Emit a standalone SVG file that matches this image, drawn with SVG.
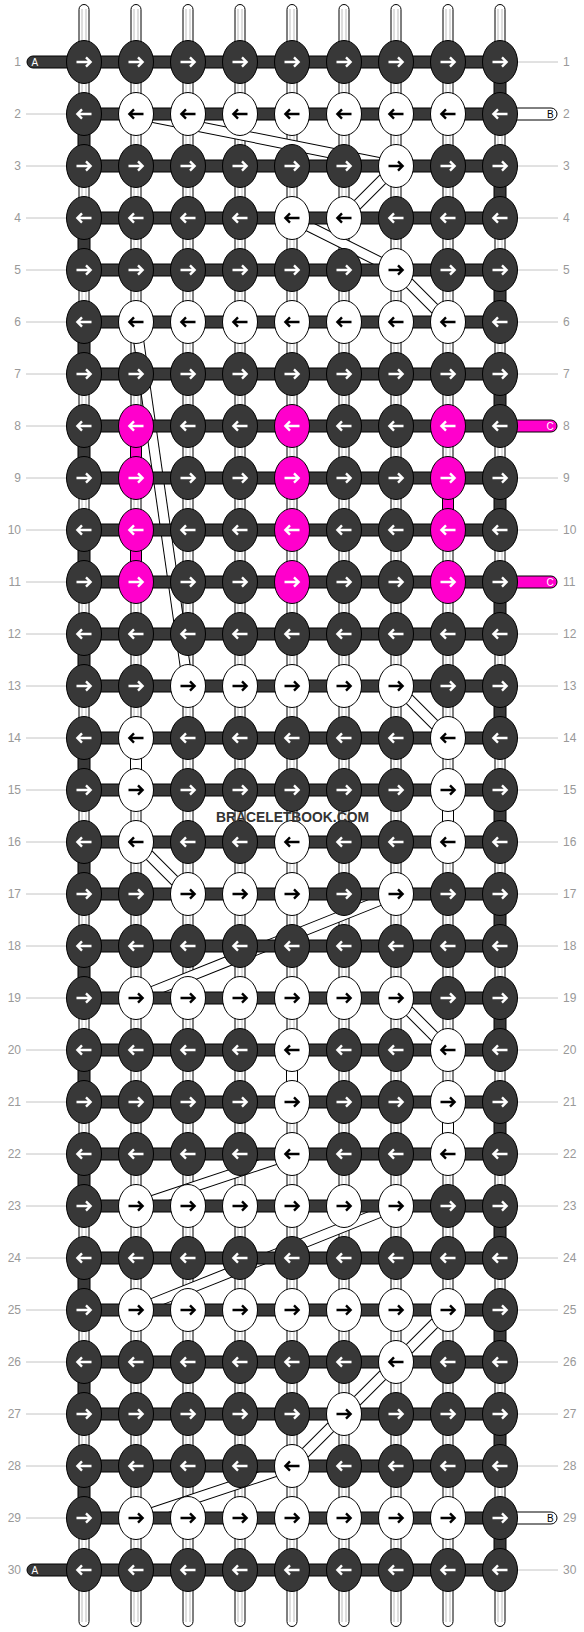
<svg xmlns="http://www.w3.org/2000/svg" xmlns:xlink="http://www.w3.org/1999/xlink" width="584" height="1632" viewBox="0 0 584 1632">
<style>
.d{fill:#383838;color:#fff}
.w{fill:#fff;color:#000}
.p{fill:#ff00cc;color:#fff}
.gl{stroke:#c4c4c4;stroke-width:1}
.lb{font-family:"Liberation Sans",Arial,sans-serif;font-size:12px;fill:#999}
.le{text-anchor:end}
.bar{fill:#383838;stroke:#000;stroke-width:1}
.pk{fill:#ff00cc;stroke:#000;stroke-width:1}
.wt{fill:#fff;stroke:#000;stroke-width:1}
.tl{stroke:#bdbdbd;stroke-width:1}
.tag{font-family:"Liberation Sans",Arial,sans-serif;font-size:10px}
</style>
<defs>
<ellipse id="E" rx="17.5" ry="21.5" stroke="#000" stroke-width="1"/>
<path id="R" d="M-7.5,0H6.5M2,-4.6L6.6,0L2,4.6" fill="none" stroke="currentColor" stroke-width="2.4"/>
<path id="L" d="M7.5,0H-6.5M-2,-4.6L-6.6,0L-2,4.6" fill="none" stroke="currentColor" stroke-width="2.4"/>
<g id="ribs" fill="none">
<line x1="136" y1="114" x2="396" y2="166"/>
<line x1="396" y1="166" x2="344" y2="218"/>
<line x1="292" y1="218" x2="396" y2="270"/>
<line x1="396" y1="270" x2="448" y2="322"/>
<line x1="136" y1="322" x2="188" y2="686"/>
<line x1="396" y1="686" x2="448" y2="738"/>
<line x1="136" y1="842" x2="188" y2="894"/>
<line x1="396" y1="894" x2="136" y2="998"/>
<line x1="396" y1="998" x2="448" y2="1050"/>
<line x1="292" y1="1154" x2="136" y2="1206"/>
<line x1="396" y1="1206" x2="136" y2="1310"/>
<line x1="448" y1="1310" x2="396" y2="1362"/>
<line x1="396" y1="1362" x2="344" y2="1414"/>
<line x1="344" y1="1414" x2="292" y2="1466"/>
<line x1="292" y1="1466" x2="136" y2="1518"/>
</g>
</defs>
<rect width="584" height="1632" fill="#fff"/>
<g id="guides" class="gl">
<path d="M26,114H66M26,166H66M26,218H66M26,270H66M26,322H66M26,374H66M26,426H66M26,478H66M26,530H66M26,582H66M26,634H66M26,686H66M26,738H66M26,790H66M26,842H66M26,894H66M26,946H66M26,998H66M26,1050H66M26,1102H66M26,1154H66M26,1206H66M26,1258H66M26,1310H66M26,1362H66M26,1414H66M26,1466H66M26,1518H66"/>
<path d="M518,62H558M518,166H558M518,218H558M518,270H558M518,322H558M518,374H558M518,478H558M518,530H558M518,634H558M518,686H558M518,738H558M518,790H558M518,842H558M518,894H558M518,946H558M518,998H558M518,1050H558M518,1102H558M518,1154H558M518,1206H558M518,1258H558M518,1310H558M518,1362H558M518,1414H558M518,1466H558M518,1570H558"/>
</g>
<g id="warps">
<g class="wt"><rect x="79" y="4.5" width="10" height="1622" rx="5"/><rect x="131" y="4.5" width="10" height="1622" rx="5"/><rect x="183" y="4.5" width="10" height="1622" rx="5"/><rect x="235" y="4.5" width="10" height="1622" rx="5"/><rect x="287" y="4.5" width="10" height="1622" rx="5"/><rect x="339" y="4.5" width="10" height="1622" rx="5"/><rect x="391" y="4.5" width="10" height="1622" rx="5"/><rect x="443" y="4.5" width="10" height="1622" rx="5"/><rect x="495" y="4.5" width="10" height="1622" rx="5"/></g>
<path class="tl" d="M82,9V1622M86,9V1622M134,9V1622M138,9V1622M186,9V1622M190,9V1622M238,9V1622M242,9V1622M290,9V1622M294,9V1622M342,9V1622M346,9V1622M394,9V1622M398,9V1622M446,9V1622M450,9V1622M498,9V1622M502,9V1622"/>
</g>
<g id="connectors">
<use href="#ribs" stroke="#000" stroke-width="11"/>
<use href="#ribs" stroke="#fff" stroke-width="9"/>
<path class="bar" d="M78,114h12v52h-12zM78,218h12v52h-12zM78,322h12v52h-12zM78,426h12v52h-12zM78,530h12v52h-12zM78,634h12v52h-12zM78,738h12v52h-12zM78,842h12v52h-12zM78,946h12v52h-12zM78,1050h12v52h-12zM78,1154h12v52h-12zM78,1258h12v52h-12zM78,1362h12v52h-12zM78,1466h12v52h-12zM494,62h12v52h-12zM494,166h12v52h-12zM494,270h12v52h-12zM494,374h12v52h-12zM494,478h12v52h-12zM494,582h12v52h-12zM494,686h12v52h-12zM494,790h12v52h-12zM494,894h12v52h-12zM494,998h12v52h-12zM494,1102h12v52h-12zM494,1206h12v52h-12zM494,1310h12v52h-12zM494,1414h12v52h-12zM494,1518h12v52h-12z"/>
<path class="pk" d="M130.5,426h11v52h-11zM130.5,530h11v52h-11zM442.5,478h11v52h-11z"/>
<path class="wt" d="M130.5,738h11v52h-11zM442.5,790h11v52h-11zM286.5,1050h11v52h-11zM442.5,1102h11v52h-11z"/>
<rect class="bar" x="27" y="56" width="473" height="12" rx="6"/>
<rect class="bar" x="27" y="1564" width="473" height="12" rx="6"/>
<path class="bar" d="M84,108h416v12h-416zM84,160h416v12h-416zM84,212h416v12h-416zM84,264h416v12h-416zM84,316h416v12h-416zM84,368h416v12h-416zM84,420h416v12h-416zM84,472h416v12h-416zM84,524h416v12h-416zM84,576h416v12h-416zM84,628h416v12h-416zM84,680h416v12h-416zM84,732h416v12h-416zM84,784h416v12h-416zM84,836h416v12h-416zM84,888h416v12h-416zM84,940h416v12h-416zM84,992h416v12h-416zM84,1044h416v12h-416zM84,1096h416v12h-416zM84,1148h416v12h-416zM84,1200h416v12h-416zM84,1252h416v12h-416zM84,1304h416v12h-416zM84,1356h416v12h-416zM84,1408h416v12h-416zM84,1460h416v12h-416zM84,1512h416v12h-416z"/>
<rect class="wt" x="490" y="108" width="67" height="12" rx="6"/>
<rect class="wt" x="490" y="1512" width="67" height="12" rx="6"/>
<rect class="pk" x="490" y="420" width="67" height="12" rx="6"/>
<rect class="pk" x="490" y="576" width="67" height="12" rx="6"/>
</g>
<g id="nodes">
<g id="r1"><g id="n1-1" class="d" transform="translate(84 62)"><use href="#E"/><use href="#R"/></g><g id="n1-2" class="d" transform="translate(136 62)"><use href="#E"/><use href="#R"/></g><g id="n1-3" class="d" transform="translate(188 62)"><use href="#E"/><use href="#R"/></g><g id="n1-4" class="d" transform="translate(240 62)"><use href="#E"/><use href="#R"/></g><g id="n1-5" class="d" transform="translate(292 62)"><use href="#E"/><use href="#R"/></g><g id="n1-6" class="d" transform="translate(344 62)"><use href="#E"/><use href="#R"/></g><g id="n1-7" class="d" transform="translate(396 62)"><use href="#E"/><use href="#R"/></g><g id="n1-8" class="d" transform="translate(448 62)"><use href="#E"/><use href="#R"/></g><g id="n1-9" class="d" transform="translate(500 62)"><use href="#E"/><use href="#R"/></g></g>
<g id="r2"><g id="n2-1" class="d" transform="translate(84 114)"><use href="#E"/><use href="#L"/></g><g id="n2-2" class="w" transform="translate(136 114)"><use href="#E"/><use href="#L"/></g><g id="n2-3" class="w" transform="translate(188 114)"><use href="#E"/><use href="#L"/></g><g id="n2-4" class="w" transform="translate(240 114)"><use href="#E"/><use href="#L"/></g><g id="n2-5" class="w" transform="translate(292 114)"><use href="#E"/><use href="#L"/></g><g id="n2-6" class="w" transform="translate(344 114)"><use href="#E"/><use href="#L"/></g><g id="n2-7" class="w" transform="translate(396 114)"><use href="#E"/><use href="#L"/></g><g id="n2-8" class="w" transform="translate(448 114)"><use href="#E"/><use href="#L"/></g><g id="n2-9" class="d" transform="translate(500 114)"><use href="#E"/><use href="#L"/></g></g>
<g id="r3"><g id="n3-1" class="d" transform="translate(84 166)"><use href="#E"/><use href="#R"/></g><g id="n3-2" class="d" transform="translate(136 166)"><use href="#E"/><use href="#R"/></g><g id="n3-3" class="d" transform="translate(188 166)"><use href="#E"/><use href="#R"/></g><g id="n3-4" class="d" transform="translate(240 166)"><use href="#E"/><use href="#R"/></g><g id="n3-5" class="d" transform="translate(292 166)"><use href="#E"/><use href="#R"/></g><g id="n3-6" class="d" transform="translate(344 166)"><use href="#E"/><use href="#R"/></g><g id="n3-7" class="w" transform="translate(396 166)"><use href="#E"/><use href="#R"/></g><g id="n3-8" class="d" transform="translate(448 166)"><use href="#E"/><use href="#R"/></g><g id="n3-9" class="d" transform="translate(500 166)"><use href="#E"/><use href="#R"/></g></g>
<g id="r4"><g id="n4-1" class="d" transform="translate(84 218)"><use href="#E"/><use href="#L"/></g><g id="n4-2" class="d" transform="translate(136 218)"><use href="#E"/><use href="#L"/></g><g id="n4-3" class="d" transform="translate(188 218)"><use href="#E"/><use href="#L"/></g><g id="n4-4" class="d" transform="translate(240 218)"><use href="#E"/><use href="#L"/></g><g id="n4-5" class="w" transform="translate(292 218)"><use href="#E"/><use href="#L"/></g><g id="n4-6" class="w" transform="translate(344 218)"><use href="#E"/><use href="#L"/></g><g id="n4-7" class="d" transform="translate(396 218)"><use href="#E"/><use href="#L"/></g><g id="n4-8" class="d" transform="translate(448 218)"><use href="#E"/><use href="#L"/></g><g id="n4-9" class="d" transform="translate(500 218)"><use href="#E"/><use href="#L"/></g></g>
<g id="r5"><g id="n5-1" class="d" transform="translate(84 270)"><use href="#E"/><use href="#R"/></g><g id="n5-2" class="d" transform="translate(136 270)"><use href="#E"/><use href="#R"/></g><g id="n5-3" class="d" transform="translate(188 270)"><use href="#E"/><use href="#R"/></g><g id="n5-4" class="d" transform="translate(240 270)"><use href="#E"/><use href="#R"/></g><g id="n5-5" class="d" transform="translate(292 270)"><use href="#E"/><use href="#R"/></g><g id="n5-6" class="d" transform="translate(344 270)"><use href="#E"/><use href="#R"/></g><g id="n5-7" class="w" transform="translate(396 270)"><use href="#E"/><use href="#R"/></g><g id="n5-8" class="d" transform="translate(448 270)"><use href="#E"/><use href="#R"/></g><g id="n5-9" class="d" transform="translate(500 270)"><use href="#E"/><use href="#R"/></g></g>
<g id="r6"><g id="n6-1" class="d" transform="translate(84 322)"><use href="#E"/><use href="#L"/></g><g id="n6-2" class="w" transform="translate(136 322)"><use href="#E"/><use href="#L"/></g><g id="n6-3" class="w" transform="translate(188 322)"><use href="#E"/><use href="#L"/></g><g id="n6-4" class="w" transform="translate(240 322)"><use href="#E"/><use href="#L"/></g><g id="n6-5" class="w" transform="translate(292 322)"><use href="#E"/><use href="#L"/></g><g id="n6-6" class="w" transform="translate(344 322)"><use href="#E"/><use href="#L"/></g><g id="n6-7" class="w" transform="translate(396 322)"><use href="#E"/><use href="#L"/></g><g id="n6-8" class="w" transform="translate(448 322)"><use href="#E"/><use href="#L"/></g><g id="n6-9" class="d" transform="translate(500 322)"><use href="#E"/><use href="#L"/></g></g>
<g id="r7"><g id="n7-1" class="d" transform="translate(84 374)"><use href="#E"/><use href="#R"/></g><g id="n7-2" class="d" transform="translate(136 374)"><use href="#E"/><use href="#R"/></g><g id="n7-3" class="d" transform="translate(188 374)"><use href="#E"/><use href="#R"/></g><g id="n7-4" class="d" transform="translate(240 374)"><use href="#E"/><use href="#R"/></g><g id="n7-5" class="d" transform="translate(292 374)"><use href="#E"/><use href="#R"/></g><g id="n7-6" class="d" transform="translate(344 374)"><use href="#E"/><use href="#R"/></g><g id="n7-7" class="d" transform="translate(396 374)"><use href="#E"/><use href="#R"/></g><g id="n7-8" class="d" transform="translate(448 374)"><use href="#E"/><use href="#R"/></g><g id="n7-9" class="d" transform="translate(500 374)"><use href="#E"/><use href="#R"/></g></g>
<g id="r8"><g id="n8-1" class="d" transform="translate(84 426)"><use href="#E"/><use href="#L"/></g><g id="n8-2" class="p" transform="translate(136 426)"><use href="#E"/><use href="#L"/></g><g id="n8-3" class="d" transform="translate(188 426)"><use href="#E"/><use href="#L"/></g><g id="n8-4" class="d" transform="translate(240 426)"><use href="#E"/><use href="#L"/></g><g id="n8-5" class="p" transform="translate(292 426)"><use href="#E"/><use href="#L"/></g><g id="n8-6" class="d" transform="translate(344 426)"><use href="#E"/><use href="#L"/></g><g id="n8-7" class="d" transform="translate(396 426)"><use href="#E"/><use href="#L"/></g><g id="n8-8" class="p" transform="translate(448 426)"><use href="#E"/><use href="#L"/></g><g id="n8-9" class="d" transform="translate(500 426)"><use href="#E"/><use href="#L"/></g></g>
<g id="r9"><g id="n9-1" class="d" transform="translate(84 478)"><use href="#E"/><use href="#R"/></g><g id="n9-2" class="p" transform="translate(136 478)"><use href="#E"/><use href="#R"/></g><g id="n9-3" class="d" transform="translate(188 478)"><use href="#E"/><use href="#R"/></g><g id="n9-4" class="d" transform="translate(240 478)"><use href="#E"/><use href="#R"/></g><g id="n9-5" class="p" transform="translate(292 478)"><use href="#E"/><use href="#R"/></g><g id="n9-6" class="d" transform="translate(344 478)"><use href="#E"/><use href="#R"/></g><g id="n9-7" class="d" transform="translate(396 478)"><use href="#E"/><use href="#R"/></g><g id="n9-8" class="p" transform="translate(448 478)"><use href="#E"/><use href="#R"/></g><g id="n9-9" class="d" transform="translate(500 478)"><use href="#E"/><use href="#R"/></g></g>
<g id="r10"><g id="n10-1" class="d" transform="translate(84 530)"><use href="#E"/><use href="#L"/></g><g id="n10-2" class="p" transform="translate(136 530)"><use href="#E"/><use href="#L"/></g><g id="n10-3" class="d" transform="translate(188 530)"><use href="#E"/><use href="#L"/></g><g id="n10-4" class="d" transform="translate(240 530)"><use href="#E"/><use href="#L"/></g><g id="n10-5" class="p" transform="translate(292 530)"><use href="#E"/><use href="#L"/></g><g id="n10-6" class="d" transform="translate(344 530)"><use href="#E"/><use href="#L"/></g><g id="n10-7" class="d" transform="translate(396 530)"><use href="#E"/><use href="#L"/></g><g id="n10-8" class="p" transform="translate(448 530)"><use href="#E"/><use href="#L"/></g><g id="n10-9" class="d" transform="translate(500 530)"><use href="#E"/><use href="#L"/></g></g>
<g id="r11"><g id="n11-1" class="d" transform="translate(84 582)"><use href="#E"/><use href="#R"/></g><g id="n11-2" class="p" transform="translate(136 582)"><use href="#E"/><use href="#R"/></g><g id="n11-3" class="d" transform="translate(188 582)"><use href="#E"/><use href="#R"/></g><g id="n11-4" class="d" transform="translate(240 582)"><use href="#E"/><use href="#R"/></g><g id="n11-5" class="p" transform="translate(292 582)"><use href="#E"/><use href="#R"/></g><g id="n11-6" class="d" transform="translate(344 582)"><use href="#E"/><use href="#R"/></g><g id="n11-7" class="d" transform="translate(396 582)"><use href="#E"/><use href="#R"/></g><g id="n11-8" class="p" transform="translate(448 582)"><use href="#E"/><use href="#R"/></g><g id="n11-9" class="d" transform="translate(500 582)"><use href="#E"/><use href="#R"/></g></g>
<g id="r12"><g id="n12-1" class="d" transform="translate(84 634)"><use href="#E"/><use href="#L"/></g><g id="n12-2" class="d" transform="translate(136 634)"><use href="#E"/><use href="#L"/></g><g id="n12-3" class="d" transform="translate(188 634)"><use href="#E"/><use href="#L"/></g><g id="n12-4" class="d" transform="translate(240 634)"><use href="#E"/><use href="#L"/></g><g id="n12-5" class="d" transform="translate(292 634)"><use href="#E"/><use href="#L"/></g><g id="n12-6" class="d" transform="translate(344 634)"><use href="#E"/><use href="#L"/></g><g id="n12-7" class="d" transform="translate(396 634)"><use href="#E"/><use href="#L"/></g><g id="n12-8" class="d" transform="translate(448 634)"><use href="#E"/><use href="#L"/></g><g id="n12-9" class="d" transform="translate(500 634)"><use href="#E"/><use href="#L"/></g></g>
<g id="r13"><g id="n13-1" class="d" transform="translate(84 686)"><use href="#E"/><use href="#R"/></g><g id="n13-2" class="d" transform="translate(136 686)"><use href="#E"/><use href="#R"/></g><g id="n13-3" class="w" transform="translate(188 686)"><use href="#E"/><use href="#R"/></g><g id="n13-4" class="w" transform="translate(240 686)"><use href="#E"/><use href="#R"/></g><g id="n13-5" class="w" transform="translate(292 686)"><use href="#E"/><use href="#R"/></g><g id="n13-6" class="w" transform="translate(344 686)"><use href="#E"/><use href="#R"/></g><g id="n13-7" class="w" transform="translate(396 686)"><use href="#E"/><use href="#R"/></g><g id="n13-8" class="d" transform="translate(448 686)"><use href="#E"/><use href="#R"/></g><g id="n13-9" class="d" transform="translate(500 686)"><use href="#E"/><use href="#R"/></g></g>
<g id="r14"><g id="n14-1" class="d" transform="translate(84 738)"><use href="#E"/><use href="#L"/></g><g id="n14-2" class="w" transform="translate(136 738)"><use href="#E"/><use href="#L"/></g><g id="n14-3" class="d" transform="translate(188 738)"><use href="#E"/><use href="#L"/></g><g id="n14-4" class="d" transform="translate(240 738)"><use href="#E"/><use href="#L"/></g><g id="n14-5" class="d" transform="translate(292 738)"><use href="#E"/><use href="#L"/></g><g id="n14-6" class="d" transform="translate(344 738)"><use href="#E"/><use href="#L"/></g><g id="n14-7" class="d" transform="translate(396 738)"><use href="#E"/><use href="#L"/></g><g id="n14-8" class="w" transform="translate(448 738)"><use href="#E"/><use href="#L"/></g><g id="n14-9" class="d" transform="translate(500 738)"><use href="#E"/><use href="#L"/></g></g>
<g id="r15"><g id="n15-1" class="d" transform="translate(84 790)"><use href="#E"/><use href="#R"/></g><g id="n15-2" class="w" transform="translate(136 790)"><use href="#E"/><use href="#R"/></g><g id="n15-3" class="d" transform="translate(188 790)"><use href="#E"/><use href="#R"/></g><g id="n15-4" class="d" transform="translate(240 790)"><use href="#E"/><use href="#R"/></g><g id="n15-5" class="d" transform="translate(292 790)"><use href="#E"/><use href="#R"/></g><g id="n15-6" class="d" transform="translate(344 790)"><use href="#E"/><use href="#R"/></g><g id="n15-7" class="d" transform="translate(396 790)"><use href="#E"/><use href="#R"/></g><g id="n15-8" class="w" transform="translate(448 790)"><use href="#E"/><use href="#R"/></g><g id="n15-9" class="d" transform="translate(500 790)"><use href="#E"/><use href="#R"/></g></g>
<g id="r16"><g id="n16-1" class="d" transform="translate(84 842)"><use href="#E"/><use href="#L"/></g><g id="n16-2" class="w" transform="translate(136 842)"><use href="#E"/><use href="#L"/></g><g id="n16-3" class="d" transform="translate(188 842)"><use href="#E"/><use href="#L"/></g><g id="n16-4" class="d" transform="translate(240 842)"><use href="#E"/><use href="#L"/></g><g id="n16-5" class="w" transform="translate(292 842)"><use href="#E"/><use href="#L"/></g><g id="n16-6" class="d" transform="translate(344 842)"><use href="#E"/><use href="#L"/></g><g id="n16-7" class="d" transform="translate(396 842)"><use href="#E"/><use href="#L"/></g><g id="n16-8" class="w" transform="translate(448 842)"><use href="#E"/><use href="#L"/></g><g id="n16-9" class="d" transform="translate(500 842)"><use href="#E"/><use href="#L"/></g></g>
<g id="r17"><g id="n17-1" class="d" transform="translate(84 894)"><use href="#E"/><use href="#R"/></g><g id="n17-2" class="d" transform="translate(136 894)"><use href="#E"/><use href="#R"/></g><g id="n17-3" class="w" transform="translate(188 894)"><use href="#E"/><use href="#R"/></g><g id="n17-4" class="w" transform="translate(240 894)"><use href="#E"/><use href="#R"/></g><g id="n17-5" class="w" transform="translate(292 894)"><use href="#E"/><use href="#R"/></g><g id="n17-6" class="d" transform="translate(344 894)"><use href="#E"/><use href="#R"/></g><g id="n17-7" class="w" transform="translate(396 894)"><use href="#E"/><use href="#R"/></g><g id="n17-8" class="d" transform="translate(448 894)"><use href="#E"/><use href="#R"/></g><g id="n17-9" class="d" transform="translate(500 894)"><use href="#E"/><use href="#R"/></g></g>
<g id="r18"><g id="n18-1" class="d" transform="translate(84 946)"><use href="#E"/><use href="#L"/></g><g id="n18-2" class="d" transform="translate(136 946)"><use href="#E"/><use href="#L"/></g><g id="n18-3" class="d" transform="translate(188 946)"><use href="#E"/><use href="#L"/></g><g id="n18-4" class="d" transform="translate(240 946)"><use href="#E"/><use href="#L"/></g><g id="n18-5" class="d" transform="translate(292 946)"><use href="#E"/><use href="#L"/></g><g id="n18-6" class="d" transform="translate(344 946)"><use href="#E"/><use href="#L"/></g><g id="n18-7" class="d" transform="translate(396 946)"><use href="#E"/><use href="#L"/></g><g id="n18-8" class="d" transform="translate(448 946)"><use href="#E"/><use href="#L"/></g><g id="n18-9" class="d" transform="translate(500 946)"><use href="#E"/><use href="#L"/></g></g>
<g id="r19"><g id="n19-1" class="d" transform="translate(84 998)"><use href="#E"/><use href="#R"/></g><g id="n19-2" class="w" transform="translate(136 998)"><use href="#E"/><use href="#R"/></g><g id="n19-3" class="w" transform="translate(188 998)"><use href="#E"/><use href="#R"/></g><g id="n19-4" class="w" transform="translate(240 998)"><use href="#E"/><use href="#R"/></g><g id="n19-5" class="w" transform="translate(292 998)"><use href="#E"/><use href="#R"/></g><g id="n19-6" class="w" transform="translate(344 998)"><use href="#E"/><use href="#R"/></g><g id="n19-7" class="w" transform="translate(396 998)"><use href="#E"/><use href="#R"/></g><g id="n19-8" class="d" transform="translate(448 998)"><use href="#E"/><use href="#R"/></g><g id="n19-9" class="d" transform="translate(500 998)"><use href="#E"/><use href="#R"/></g></g>
<g id="r20"><g id="n20-1" class="d" transform="translate(84 1050)"><use href="#E"/><use href="#L"/></g><g id="n20-2" class="d" transform="translate(136 1050)"><use href="#E"/><use href="#L"/></g><g id="n20-3" class="d" transform="translate(188 1050)"><use href="#E"/><use href="#L"/></g><g id="n20-4" class="d" transform="translate(240 1050)"><use href="#E"/><use href="#L"/></g><g id="n20-5" class="w" transform="translate(292 1050)"><use href="#E"/><use href="#L"/></g><g id="n20-6" class="d" transform="translate(344 1050)"><use href="#E"/><use href="#L"/></g><g id="n20-7" class="d" transform="translate(396 1050)"><use href="#E"/><use href="#L"/></g><g id="n20-8" class="w" transform="translate(448 1050)"><use href="#E"/><use href="#L"/></g><g id="n20-9" class="d" transform="translate(500 1050)"><use href="#E"/><use href="#L"/></g></g>
<g id="r21"><g id="n21-1" class="d" transform="translate(84 1102)"><use href="#E"/><use href="#R"/></g><g id="n21-2" class="d" transform="translate(136 1102)"><use href="#E"/><use href="#R"/></g><g id="n21-3" class="d" transform="translate(188 1102)"><use href="#E"/><use href="#R"/></g><g id="n21-4" class="d" transform="translate(240 1102)"><use href="#E"/><use href="#R"/></g><g id="n21-5" class="w" transform="translate(292 1102)"><use href="#E"/><use href="#R"/></g><g id="n21-6" class="d" transform="translate(344 1102)"><use href="#E"/><use href="#R"/></g><g id="n21-7" class="d" transform="translate(396 1102)"><use href="#E"/><use href="#R"/></g><g id="n21-8" class="w" transform="translate(448 1102)"><use href="#E"/><use href="#R"/></g><g id="n21-9" class="d" transform="translate(500 1102)"><use href="#E"/><use href="#R"/></g></g>
<g id="r22"><g id="n22-1" class="d" transform="translate(84 1154)"><use href="#E"/><use href="#L"/></g><g id="n22-2" class="d" transform="translate(136 1154)"><use href="#E"/><use href="#L"/></g><g id="n22-3" class="d" transform="translate(188 1154)"><use href="#E"/><use href="#L"/></g><g id="n22-4" class="d" transform="translate(240 1154)"><use href="#E"/><use href="#L"/></g><g id="n22-5" class="w" transform="translate(292 1154)"><use href="#E"/><use href="#L"/></g><g id="n22-6" class="d" transform="translate(344 1154)"><use href="#E"/><use href="#L"/></g><g id="n22-7" class="d" transform="translate(396 1154)"><use href="#E"/><use href="#L"/></g><g id="n22-8" class="w" transform="translate(448 1154)"><use href="#E"/><use href="#L"/></g><g id="n22-9" class="d" transform="translate(500 1154)"><use href="#E"/><use href="#L"/></g></g>
<g id="r23"><g id="n23-1" class="d" transform="translate(84 1206)"><use href="#E"/><use href="#R"/></g><g id="n23-2" class="w" transform="translate(136 1206)"><use href="#E"/><use href="#R"/></g><g id="n23-3" class="w" transform="translate(188 1206)"><use href="#E"/><use href="#R"/></g><g id="n23-4" class="w" transform="translate(240 1206)"><use href="#E"/><use href="#R"/></g><g id="n23-5" class="w" transform="translate(292 1206)"><use href="#E"/><use href="#R"/></g><g id="n23-6" class="w" transform="translate(344 1206)"><use href="#E"/><use href="#R"/></g><g id="n23-7" class="w" transform="translate(396 1206)"><use href="#E"/><use href="#R"/></g><g id="n23-8" class="d" transform="translate(448 1206)"><use href="#E"/><use href="#R"/></g><g id="n23-9" class="d" transform="translate(500 1206)"><use href="#E"/><use href="#R"/></g></g>
<g id="r24"><g id="n24-1" class="d" transform="translate(84 1258)"><use href="#E"/><use href="#L"/></g><g id="n24-2" class="d" transform="translate(136 1258)"><use href="#E"/><use href="#L"/></g><g id="n24-3" class="d" transform="translate(188 1258)"><use href="#E"/><use href="#L"/></g><g id="n24-4" class="d" transform="translate(240 1258)"><use href="#E"/><use href="#L"/></g><g id="n24-5" class="d" transform="translate(292 1258)"><use href="#E"/><use href="#L"/></g><g id="n24-6" class="d" transform="translate(344 1258)"><use href="#E"/><use href="#L"/></g><g id="n24-7" class="d" transform="translate(396 1258)"><use href="#E"/><use href="#L"/></g><g id="n24-8" class="d" transform="translate(448 1258)"><use href="#E"/><use href="#L"/></g><g id="n24-9" class="d" transform="translate(500 1258)"><use href="#E"/><use href="#L"/></g></g>
<g id="r25"><g id="n25-1" class="d" transform="translate(84 1310)"><use href="#E"/><use href="#R"/></g><g id="n25-2" class="w" transform="translate(136 1310)"><use href="#E"/><use href="#R"/></g><g id="n25-3" class="w" transform="translate(188 1310)"><use href="#E"/><use href="#R"/></g><g id="n25-4" class="w" transform="translate(240 1310)"><use href="#E"/><use href="#R"/></g><g id="n25-5" class="w" transform="translate(292 1310)"><use href="#E"/><use href="#R"/></g><g id="n25-6" class="w" transform="translate(344 1310)"><use href="#E"/><use href="#R"/></g><g id="n25-7" class="w" transform="translate(396 1310)"><use href="#E"/><use href="#R"/></g><g id="n25-8" class="w" transform="translate(448 1310)"><use href="#E"/><use href="#R"/></g><g id="n25-9" class="d" transform="translate(500 1310)"><use href="#E"/><use href="#R"/></g></g>
<g id="r26"><g id="n26-1" class="d" transform="translate(84 1362)"><use href="#E"/><use href="#L"/></g><g id="n26-2" class="d" transform="translate(136 1362)"><use href="#E"/><use href="#L"/></g><g id="n26-3" class="d" transform="translate(188 1362)"><use href="#E"/><use href="#L"/></g><g id="n26-4" class="d" transform="translate(240 1362)"><use href="#E"/><use href="#L"/></g><g id="n26-5" class="d" transform="translate(292 1362)"><use href="#E"/><use href="#L"/></g><g id="n26-6" class="d" transform="translate(344 1362)"><use href="#E"/><use href="#L"/></g><g id="n26-7" class="w" transform="translate(396 1362)"><use href="#E"/><use href="#L"/></g><g id="n26-8" class="d" transform="translate(448 1362)"><use href="#E"/><use href="#L"/></g><g id="n26-9" class="d" transform="translate(500 1362)"><use href="#E"/><use href="#L"/></g></g>
<g id="r27"><g id="n27-1" class="d" transform="translate(84 1414)"><use href="#E"/><use href="#R"/></g><g id="n27-2" class="d" transform="translate(136 1414)"><use href="#E"/><use href="#R"/></g><g id="n27-3" class="d" transform="translate(188 1414)"><use href="#E"/><use href="#R"/></g><g id="n27-4" class="d" transform="translate(240 1414)"><use href="#E"/><use href="#R"/></g><g id="n27-5" class="d" transform="translate(292 1414)"><use href="#E"/><use href="#R"/></g><g id="n27-6" class="w" transform="translate(344 1414)"><use href="#E"/><use href="#R"/></g><g id="n27-7" class="d" transform="translate(396 1414)"><use href="#E"/><use href="#R"/></g><g id="n27-8" class="d" transform="translate(448 1414)"><use href="#E"/><use href="#R"/></g><g id="n27-9" class="d" transform="translate(500 1414)"><use href="#E"/><use href="#R"/></g></g>
<g id="r28"><g id="n28-1" class="d" transform="translate(84 1466)"><use href="#E"/><use href="#L"/></g><g id="n28-2" class="d" transform="translate(136 1466)"><use href="#E"/><use href="#L"/></g><g id="n28-3" class="d" transform="translate(188 1466)"><use href="#E"/><use href="#L"/></g><g id="n28-4" class="d" transform="translate(240 1466)"><use href="#E"/><use href="#L"/></g><g id="n28-5" class="w" transform="translate(292 1466)"><use href="#E"/><use href="#L"/></g><g id="n28-6" class="d" transform="translate(344 1466)"><use href="#E"/><use href="#L"/></g><g id="n28-7" class="d" transform="translate(396 1466)"><use href="#E"/><use href="#L"/></g><g id="n28-8" class="d" transform="translate(448 1466)"><use href="#E"/><use href="#L"/></g><g id="n28-9" class="d" transform="translate(500 1466)"><use href="#E"/><use href="#L"/></g></g>
<g id="r29"><g id="n29-1" class="d" transform="translate(84 1518)"><use href="#E"/><use href="#R"/></g><g id="n29-2" class="w" transform="translate(136 1518)"><use href="#E"/><use href="#R"/></g><g id="n29-3" class="w" transform="translate(188 1518)"><use href="#E"/><use href="#R"/></g><g id="n29-4" class="w" transform="translate(240 1518)"><use href="#E"/><use href="#R"/></g><g id="n29-5" class="w" transform="translate(292 1518)"><use href="#E"/><use href="#R"/></g><g id="n29-6" class="w" transform="translate(344 1518)"><use href="#E"/><use href="#R"/></g><g id="n29-7" class="w" transform="translate(396 1518)"><use href="#E"/><use href="#R"/></g><g id="n29-8" class="w" transform="translate(448 1518)"><use href="#E"/><use href="#R"/></g><g id="n29-9" class="d" transform="translate(500 1518)"><use href="#E"/><use href="#R"/></g></g>
<g id="r30"><g id="n30-1" class="d" transform="translate(84 1570)"><use href="#E"/><use href="#L"/></g><g id="n30-2" class="d" transform="translate(136 1570)"><use href="#E"/><use href="#L"/></g><g id="n30-3" class="d" transform="translate(188 1570)"><use href="#E"/><use href="#L"/></g><g id="n30-4" class="d" transform="translate(240 1570)"><use href="#E"/><use href="#L"/></g><g id="n30-5" class="d" transform="translate(292 1570)"><use href="#E"/><use href="#L"/></g><g id="n30-6" class="d" transform="translate(344 1570)"><use href="#E"/><use href="#L"/></g><g id="n30-7" class="d" transform="translate(396 1570)"><use href="#E"/><use href="#L"/></g><g id="n30-8" class="d" transform="translate(448 1570)"><use href="#E"/><use href="#L"/></g><g id="n30-9" class="d" transform="translate(500 1570)"><use href="#E"/><use href="#L"/></g></g>
</g>
<g id="thread-tags" class="tag">
<text x="31.5" y="65.5" fill="#fff">A</text>
<text x="31.5" y="1573.5" fill="#fff">A</text>
<text x="547" y="117.5" fill="#000">B</text>
<text x="547" y="1521.5" fill="#000">B</text>
<text x="546.5" y="429.5" fill="#fff">C</text>
<text x="546.5" y="585.5" fill="#fff">C</text>
</g>
<g id="row-labels" class="lb">
<g class="le">
<text x="21" y="66">1</text><text x="21" y="118">2</text><text x="21" y="170">3</text><text x="21" y="222">4</text><text x="21" y="274">5</text><text x="21" y="326">6</text><text x="21" y="378">7</text><text x="21" y="430">8</text><text x="21" y="482">9</text><text x="21" y="534">10</text><text x="21" y="586">11</text><text x="21" y="638">12</text><text x="21" y="690">13</text><text x="21" y="742">14</text><text x="21" y="794">15</text><text x="21" y="846">16</text><text x="21" y="898">17</text><text x="21" y="950">18</text><text x="21" y="1002">19</text><text x="21" y="1054">20</text><text x="21" y="1106">21</text><text x="21" y="1158">22</text><text x="21" y="1210">23</text><text x="21" y="1262">24</text><text x="21" y="1314">25</text><text x="21" y="1366">26</text><text x="21" y="1418">27</text><text x="21" y="1470">28</text><text x="21" y="1522">29</text><text x="21" y="1574">30</text>
</g>
<text x="563" y="66">1</text><text x="563" y="118">2</text><text x="563" y="170">3</text><text x="563" y="222">4</text><text x="563" y="274">5</text><text x="563" y="326">6</text><text x="563" y="378">7</text><text x="563" y="430">8</text><text x="563" y="482">9</text><text x="563" y="534">10</text><text x="563" y="586">11</text><text x="563" y="638">12</text><text x="563" y="690">13</text><text x="563" y="742">14</text><text x="563" y="794">15</text><text x="563" y="846">16</text><text x="563" y="898">17</text><text x="563" y="950">18</text><text x="563" y="1002">19</text><text x="563" y="1054">20</text><text x="563" y="1106">21</text><text x="563" y="1158">22</text><text x="563" y="1210">23</text><text x="563" y="1262">24</text><text x="563" y="1314">25</text><text x="563" y="1366">26</text><text x="563" y="1418">27</text><text x="563" y="1470">28</text><text x="563" y="1522">29</text><text x="563" y="1574">30</text>
</g>
<text id="watermark" x="292.5" y="821.5" text-anchor="middle" font-family="'Liberation Sans',Arial,sans-serif" font-weight="bold" font-size="15" fill="#333" textLength="153" lengthAdjust="spacingAndGlyphs">BRACELETBOOK.COM</text>
</svg>
